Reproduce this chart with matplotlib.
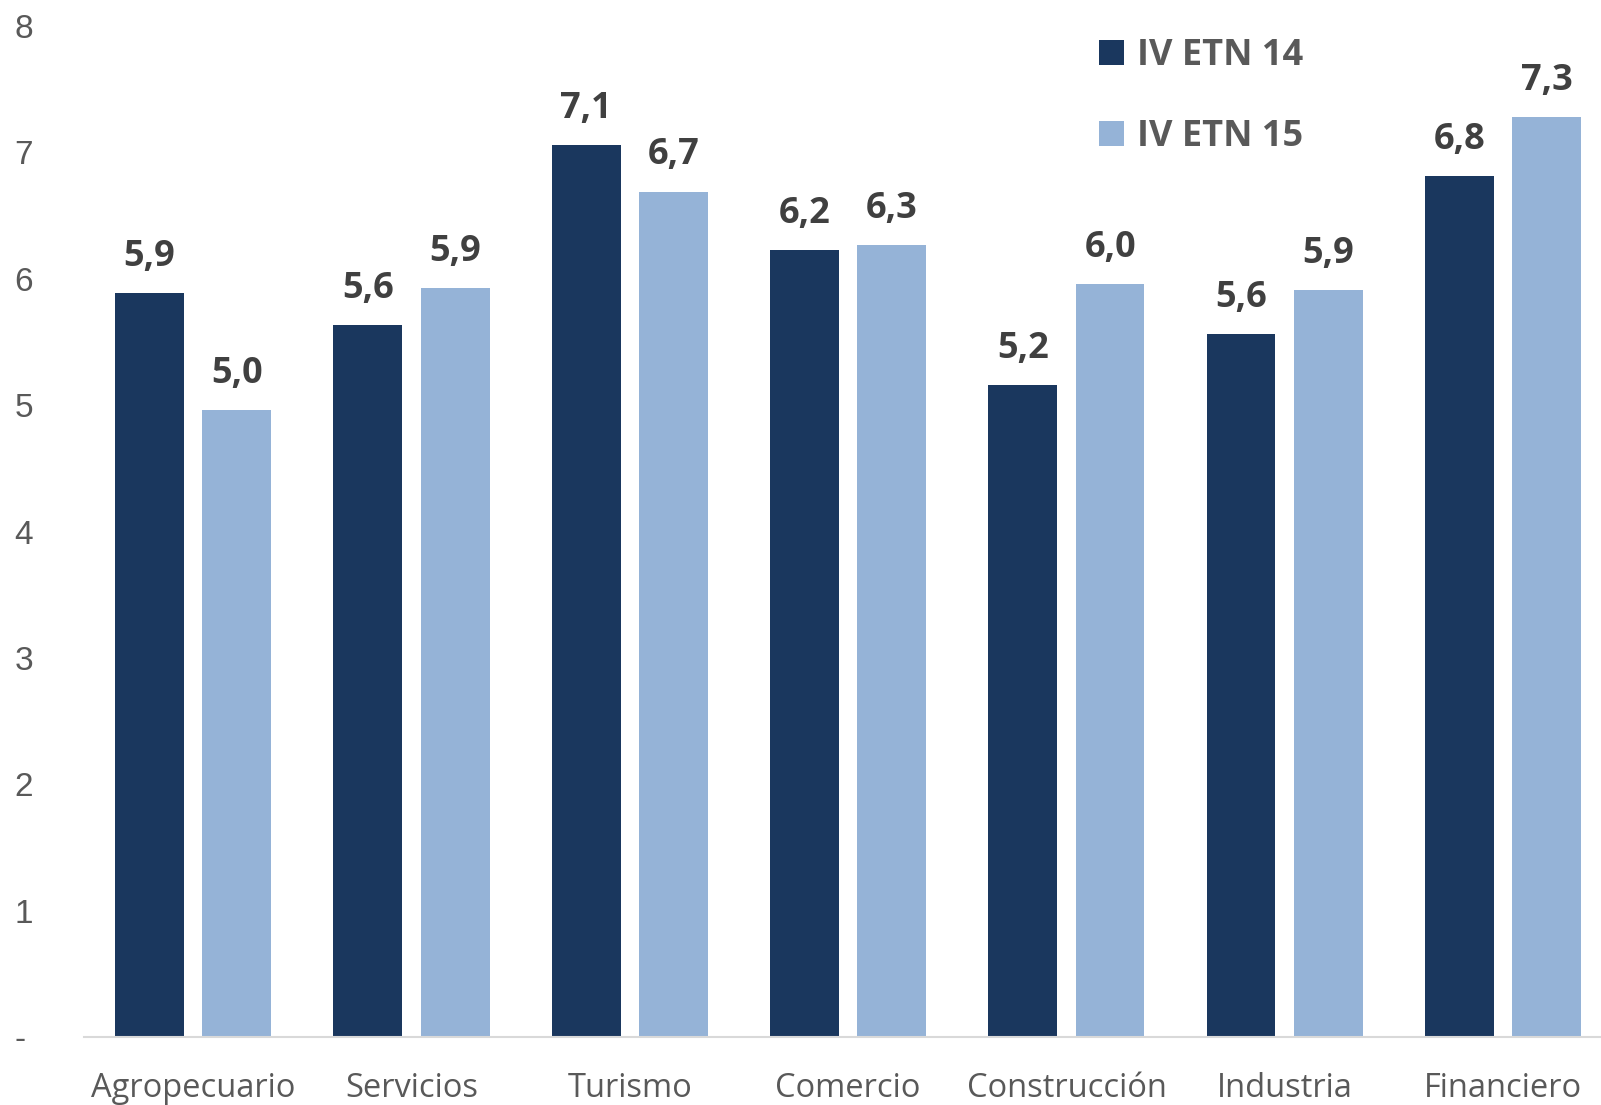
import matplotlib
matplotlib.use("Agg")
import matplotlib.pyplot as plt
import numpy as np

categories = ["Agropecuario", "Servicios", "Turismo", "Comercio", "Construcción", "Industria", "Financiero"]
series_names = ["IV ETN 14", "IV ETN 15"]
etn14 = [5.89, 5.63, 7.06, 6.23, 5.16, 5.56, 6.81]
etn15 = [4.96, 5.93, 6.69, 6.27, 5.96, 5.91, 7.28]
yticks = [0, 1, 2, 3, 4, 5, 6, 7, 8]
ytick_labels = ["-", "1", "2", "3", "4", "5", "6", "7", "8"]

dark = "#1A375E"
light = "#95B3D7"
gray = "#595959"

fig = plt.figure(figsize=(16.01, 11.05), dpi=100)
ax = fig.add_axes([0.0525, 0.0615, 0.9545, 0.915])

x = np.arange(len(categories))
w = 0.315
off = 0.2
b1 = ax.bar(x - off, etn14, w, color=dark, label=series_names[0], zorder=2)
b2 = ax.bar(x + off, etn15, w, color=light, label=series_names[1], zorder=2)

for bars, vals in ((b1, etn14), (b2, etn15)):
    for rect, v in zip(bars, vals):
        ax.annotate(f"{v:.1f}".replace(".", ","),
                    (rect.get_x() + rect.get_width() / 2, rect.get_height()),
                    xytext=(0, 13), textcoords="offset points",
                    ha="center", va="bottom", fontsize=26, fontweight="bold",
                    color="#404040", family="Open Sans")

ax.set_xlim(-0.5, len(categories) - 0.5)
ax.set_ylim(0, 8)
ax.set_yticks(yticks)
ax.set_yticklabels(ytick_labels, family="Liberation Sans", fontsize=24, color=gray)
ax.set_xticks(x)
ax.set_xticklabels(categories, family="Open Sans", fontsize=23.5, color=gray)
ax.tick_params(axis="both", length=0)
ax.tick_params(axis="x", pad=25)
ax.tick_params(axis="y", pad=50)
for lab in ax.get_yticklabels():
    lab.set_horizontalalignment("left")
for s in ["top", "right", "left"]:
    ax.spines[s].set_visible(False)
ax.spines["bottom"].set_color("#D9D9D9")
ax.spines["bottom"].set_linewidth(1.5)
ax.spines["bottom"].set_clip_on(False)

leg = ax.legend(loc="upper left", bbox_to_anchor=(0.643, 1.02), frameon=False,
                prop={"family": "Open Sans", "size": 26, "weight": "bold"},
                handlelength=0.7, handleheight=0.7, handletextpad=0.35,
                labelspacing=1.25)
for t in leg.get_texts():
    t.set_color(gray)

fig.savefig("out.png", dpi=100)
